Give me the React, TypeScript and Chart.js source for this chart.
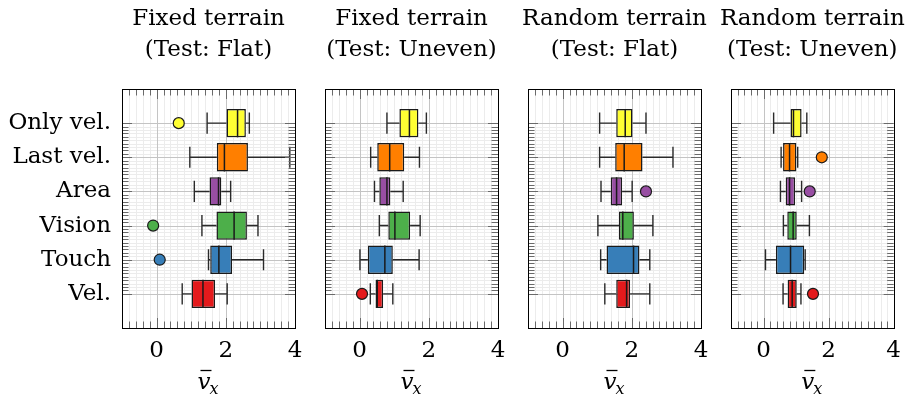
import React, { useEffect, useRef } from "react";
import { Chart, registerables } from "chart.js";

Chart.register(...registerables);

// ---------- data ----------
const categories = ["Only vel.", "Last vel.", "Area", "Vision", "Touch", "Vel."];
const boxColors = ["#ffff33", "#ff7f00", "#984ea3", "#4daf4a", "#377eb8", "#e41a1c"];
const xTicks = [0, 2, 4];
const panelTitles = [
  ["Fixed terrain", "(Test: Flat)"],
  ["Fixed terrain", "(Test: Uneven)"],
  ["Random terrain", "(Test: Flat)"],
  ["Random terrain", "(Test: Uneven)"],
];

// Fixed terrain, test flat
const fixedFlatLow = [1.46, 0.96, 1.09, 1.31, 1.5, 0.74];
const fixedFlatQ1 = [2.02, 1.74, 1.53, 1.73, 1.55, 1.01];
const fixedFlatMed = [2.34, 1.96, 1.79, 2.24, 1.8, 1.34];
const fixedFlatQ3 = [2.58, 2.64, 1.87, 2.61, 2.18, 1.69];
const fixedFlatHigh = [2.68, 3.85, 2.14, 2.93, 3.09, 2.04];
const fixedFlatOut = [0.64, null, null, -0.1, 0.09, null];

// Fixed terrain, test uneven
const fixedUnevenLow = [0.79, 0.32, 0.43, 0.57, 0.01, 0.31];
const fixedUnevenQ1 = [1.15, 0.51, 0.57, 0.83, 0.24, 0.46];
const fixedUnevenMed = [1.44, 0.87, 0.79, 1.02, 0.73, 0.51];
const fixedUnevenQ3 = [1.7, 1.29, 0.89, 1.46, 0.96, 0.68];
const fixedUnevenHigh = [1.93, 1.73, 1.26, 1.75, 1.72, 0.96];
const fixedUnevenOut = [null, null, null, null, null, 0.07];

// Random terrain, test flat
const randomFlatLow = [1.07, 1.07, 1.11, 1.02, 1.1, 1.22];
const randomFlatQ1 = [1.55, 1.52, 1.39, 1.63, 1.27, 1.55];
const randomFlatMed = [1.81, 1.78, 1.56, 1.74, 2.05, 1.85];
const randomFlatQ3 = [2.02, 2.31, 1.72, 2.06, 2.22, 1.95];
const randomFlatHigh = [2.41, 3.19, 2.01, 2.61, 2.52, 2.52];
const randomFlatOut = [null, null, 2.41, null, null, null];

// Random terrain, test uneven
const randomUnevenLow = [0.31, 0.54, 0.52, 0.61, 0.06, 0.6];
const randomUnevenQ1 = [0.83, 0.6, 0.68, 0.73, 0.38, 0.74];
const randomUnevenMed = [0.92, 0.8, 0.8, 0.91, 0.83, 0.88];
const randomUnevenQ3 = [1.17, 1.01, 0.97, 1.02, 1.25, 1.02];
const randomUnevenHigh = [1.33, 1.05, 1.17, 1.41, 1.28, 1.15];
const randomUnevenOut = [null, 1.79, 1.42, null, null, 1.52];

const panels = [
  { low: fixedFlatLow, q1: fixedFlatQ1, med: fixedFlatMed, q3: fixedFlatQ3, high: fixedFlatHigh, out: fixedFlatOut },
  { low: fixedUnevenLow, q1: fixedUnevenQ1, med: fixedUnevenMed, q3: fixedUnevenQ3, high: fixedUnevenHigh, out: fixedUnevenOut },
  { low: randomFlatLow, q1: randomFlatQ1, med: randomFlatMed, q3: randomFlatQ3, high: randomFlatHigh, out: randomFlatOut },
  { low: randomUnevenLow, q1: randomUnevenQ1, med: randomUnevenMed, q3: randomUnevenQ3, high: randomUnevenHigh, out: randomUnevenOut },
];

// ---------- layout ----------
const W = 910;
const H = 401;
const plotLefts = [122, 325, 528, 731];
const plotWidth = 173;
const plotTop = 89;
const plotBottom = 328;
const FONT = "'DejaVu Serif', 'Liberation Serif', serif";
const FS = 23;

function makePlugin(panelIndex: number) {
  const p = panels[panelIndex];
  return {
    id: "boxextras" + panelIndex,
    beforeDatasetsDraw(chart: any) {
      const { ctx, chartArea: a, scales } = chart;
      const xs = scales.x;
      const ys = scales.y;
      ctx.save();
      ctx.lineWidth = 1;
      // minor vertical grid
      for (let k = -5; k <= 20; k++) {
        const v = k * 0.2;
        if (Math.abs(v - Math.round(v / 2) * 2) < 1e-6) continue;
        const px = Math.round(xs.getPixelForValue(v)) + 0.5;
        ctx.strokeStyle = "#ececec";
        ctx.beginPath();
        ctx.moveTo(px, a.top);
        ctx.lineTo(px, a.bottom);
        ctx.stroke();
      }
      // minor horizontal grid (between first and last category)
      for (let k = 10; k <= 60; k++) {
        if (k % 10 === 0) continue;
        const py = Math.round(ys.getPixelForValue(k / 10)) + 0.5;
        ctx.strokeStyle = "#ececec";
        ctx.beginPath();
        ctx.moveTo(a.left, py);
        ctx.lineTo(a.right, py);
        ctx.stroke();
      }
      // major grid
      ctx.strokeStyle = "#c4c4c4";
      xTicks.forEach((v) => {
        const px = Math.round(xs.getPixelForValue(v)) + 0.5;
        ctx.beginPath();
        ctx.moveTo(px, a.top);
        ctx.lineTo(px, a.bottom);
        ctx.stroke();
      });
      categories.forEach((_, i) => {
        const py = Math.round(ys.getPixelForValue(i + 1)) + 0.5;
        ctx.beginPath();
        ctx.moveTo(a.left, py);
        ctx.lineTo(a.right, py);
        ctx.stroke();
      });
      // whiskers
      ctx.strokeStyle = "#2a2a2a";
      ctx.lineWidth = 1.4;
      const unit = Math.abs(ys.getPixelForValue(2) - ys.getPixelForValue(1));
      const cap = unit * 0.31;
      categories.forEach((_, i) => {
        const py = ys.getPixelForValue(i + 1);
        const lo = xs.getPixelForValue(p.low[i]);
        const q1 = xs.getPixelForValue(p.q1[i]);
        const q3 = xs.getPixelForValue(p.q3[i]);
        const hi = xs.getPixelForValue(p.high[i]);
        ctx.beginPath();
        ctx.moveTo(lo, py);
        ctx.lineTo(q1, py);
        ctx.moveTo(q3, py);
        ctx.lineTo(hi, py);
        ctx.moveTo(lo, py - cap);
        ctx.lineTo(lo, py + cap);
        ctx.moveTo(hi, py - cap);
        ctx.lineTo(hi, py + cap);
        ctx.stroke();
      });
      ctx.restore();
    },
    afterDatasetDraw(chart: any, args: any) {
      if (args.index !== 0) return;
      const { ctx, scales } = chart;
      const xs = scales.x;
      const ys = scales.y;
      const meta = chart.getDatasetMeta(0);
      ctx.save();
      ctx.strokeStyle = "#1a1a1a";
      ctx.lineWidth = 1.5;
      categories.forEach((_, i) => {
        const bar = meta.data[i];
        const half = bar.height / 2;
        const py = ys.getPixelForValue(i + 1);
        const mx = xs.getPixelForValue(p.med[i]);
        ctx.beginPath();
        ctx.moveTo(mx, py - half);
        ctx.lineTo(mx, py + half);
        ctx.stroke();
      });
      ctx.restore();
    },
    afterDraw(chart: any) {
      const { ctx, chartArea: a, scales } = chart;
      const xs = scales.x;
      const ys = scales.y;
      ctx.save();
      ctx.strokeStyle = "#6a6a6a";
      ctx.lineWidth = 1;
      // x ticks top & bottom
      for (let k = -5; k <= 20; k++) {
        const v = k * 0.2;
        const major = Math.abs(v - Math.round(v / 2) * 2) < 1e-6;
        const len = major ? 10 : 6.5;
        const px = Math.round(xs.getPixelForValue(v)) + 0.5;
        ctx.beginPath();
        ctx.moveTo(px, a.top);
        ctx.lineTo(px, a.top + len);
        ctx.moveTo(px, a.bottom);
        ctx.lineTo(px, a.bottom - len);
        ctx.stroke();
      }
      // y ticks left & right
      for (let k = 10; k <= 60; k++) {
        const major = k % 10 === 0;
        const len = major ? 10 : 6.5;
        const py = Math.round(ys.getPixelForValue(k / 10)) + 0.5;
        ctx.beginPath();
        ctx.moveTo(a.left, py);
        ctx.lineTo(a.left + len, py);
        ctx.moveTo(a.right, py);
        ctx.lineTo(a.right - len, py);
        ctx.stroke();
      }
      // frame
      ctx.strokeStyle = "#000";
      ctx.lineWidth = 1;
      ctx.strokeRect(Math.round(a.left) + 0.5, Math.round(a.top) + 0.5, Math.round(a.right - a.left), Math.round(a.bottom - a.top));
      // titles
      const cx = (a.left + a.right) / 2;
      ctx.fillStyle = "#000";
      ctx.textAlign = "center";
      ctx.textBaseline = "alphabetic";
      ctx.font = `${FS}px ${FONT}`;
      ctx.fillText(panelTitles[panelIndex][0], cx, 25);
      ctx.fillText(panelTitles[panelIndex][1], cx, 56);
      // axis title: v-bar sub x
      ctx.font = `italic ${FS}px ${FONT}`;
      const vw = ctx.measureText("v").width;
      ctx.font = `italic 16px ${FONT}`;
      const xw = ctx.measureText("x").width;
      const total = vw + xw;
      const x0 = cx - total / 2;
      const base = 389;
      ctx.textAlign = "left";
      ctx.font = `italic ${FS}px ${FONT}`;
      ctx.fillText("v", x0, base);
      ctx.font = `italic 16px ${FONT}`;
      ctx.fillText("x", x0 + vw - 1, base + 5);
      ctx.lineWidth = 1.3;
      ctx.strokeStyle = "#000";
      ctx.beginPath();
      ctx.moveTo(x0 + 3, base - 18.5);
      ctx.lineTo(x0 + vw + 1, base - 18.5);
      ctx.stroke();
      ctx.restore();
    },
  };
}

function Panel({ index }: { index: number }) {
  const ref = useRef<HTMLCanvasElement | null>(null);
  useEffect(() => {
    const p = panels[index];
    const left = plotLefts[index];
    const right = left + plotWidth;
    const yAxisWidth = index === 0 ? left : 0;
    const xAxisHeight = H - plotBottom;
    const outPoints: any[] = [];
    const outColors: string[] = [];
    p.out.forEach((v, i) => {
      if (v !== null) {
        outPoints.push({ x: v, y: i + 1 });
        outColors.push(boxColors[i]);
      }
    });
    const chart = new Chart(ref.current as HTMLCanvasElement, {
      type: "bar",
      data: {
        datasets: [
          {
            type: "bar",
            data: categories.map((_, i) => ({ y: i + 1, x: [p.q1[i], p.q3[i]] })) as any,
            backgroundColor: boxColors,
            borderColor: "#1a1a1a",
            borderWidth: 1.5,
            borderSkipped: false,
            categoryPercentage: 1,
            barPercentage: 0.83,
            order: 2,
          } as any,
          {
            type: "scatter",
            data: outPoints,
            backgroundColor: outColors,
            borderColor: "#1a1a1a",
            borderWidth: 1.2,
            pointRadius: 5.5,
            order: 1,
          } as any,
        ],
      },
      options: {
        indexAxis: "y",
        responsive: false,
        maintainAspectRatio: false,
        animation: false,
        events: [],
        layout: { padding: { left: left - yAxisWidth, right: W - right, top: plotTop, bottom: 0 } },
        plugins: { legend: { display: false }, tooltip: { enabled: false }, title: { display: false } },
        scales: {
          x: {
            type: "linear",
            position: "bottom",
            min: -1,
            max: 4,
            offset: false,
            afterBuildTicks: (s: any) => {
              s.ticks = xTicks.map((v) => ({ value: v }));
            },
            afterFit: (s: any) => {
              s.height = xAxisHeight;
            },
            grid: { display: false, drawTicks: false },
            border: { display: false },
            ticks: {
              color: "#000",
              font: { family: FONT, size: FS },
              padding: 9,
              maxRotation: 0,
              autoSkip: false,
            },
          },
          y: {
            type: "linear",
            position: "left",
            min: 0,
            max: 7,
            reverse: true,
            offset: false,
            afterBuildTicks: (s: any) => {
              s.ticks = categories.map((_, i) => ({ value: i + 1 }));
            },
            afterFit: (s: any) => {
              s.width = yAxisWidth;
            },
            grid: { display: false, drawTicks: false },
            border: { display: false },
            ticks: {
              display: index === 0,
              color: "#000",
              font: { family: FONT, size: FS },
              padding: 11,
              autoSkip: false,
              callback: (v: any) => categories[Number(v) - 1] ?? "",
            },
          },
        },
      } as any,
      plugins: [makePlugin(index)],
    });
    return () => chart.destroy();
  }, [index]);
  return (
    <canvas
      ref={ref}
      width={W}
      height={H}
      style={{ position: "absolute", left: 0, top: 0, width: W, height: H }}
    />
  );
}

export default function App() {
  return (
    <div style={{ position: "fixed", left: 0, top: 0, width: W, height: H, background: "#fff" }}>
      {[0, 1, 2, 3].map((i) => (
        <Panel key={i} index={i} />
      ))}
    </div>
  );
}
